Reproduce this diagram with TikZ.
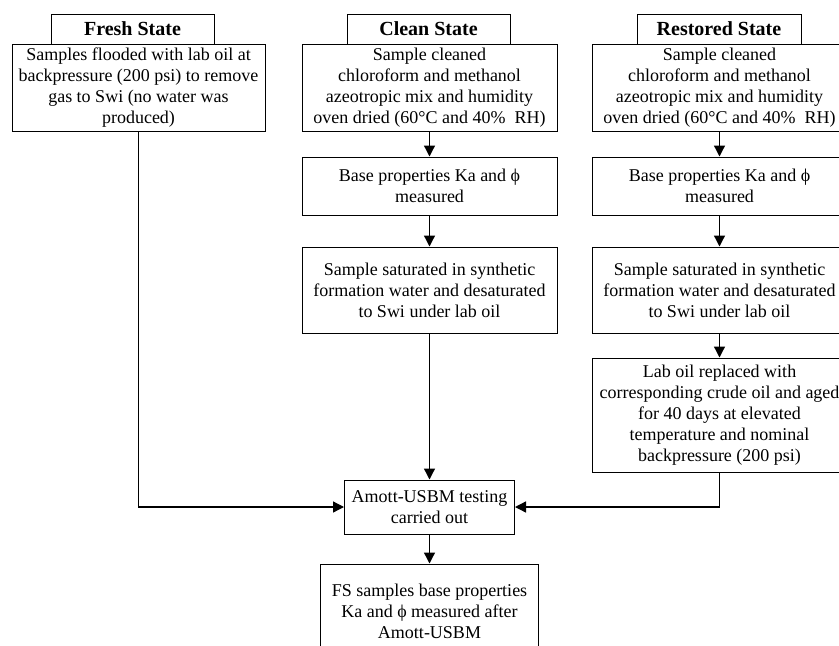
\documentclass[tikz,border=0pt]{standalone}
\usepackage{fontspec}
\setmainfont{Liberation Serif}
\usetikzlibrary{arrows.meta}
\begin{document}
\begin{tikzpicture}[x=1pt,y=-1pt,
  box/.style={draw, line width=1pt, align=center, inner sep=0pt, font=\fontsize{18}{21}\selectfont},
  head/.style={draw, line width=1pt, align=center, inner sep=0pt, font=\fontsize{20}{24}\selectfont\bfseries},
  arr/.style={-{Triangle[length=11pt,width=11pt]}, line width=1.3pt}]
\useasboundingbox (0,0) rectangle (839,646);
\clip (0,0) rectangle (839,646);
% Fresh
\node[head, minimum width=163pt, minimum height=30pt] (fh) at (132.5,29) {Fresh State};
\node[box, minimum width=253pt, minimum height=87pt] (fb) at (138.5,87.5)
  {Samples flooded with lab oil at\\backpressure (200 psi) to remove\\gas to Swi (no water was\\produced)};
% Clean
\node[head, minimum width=163pt, minimum height=30pt] (ch) at (428.5,29) {Clean State};
\node[box, minimum width=255pt, minimum height=87pt] (cb) at (429.5,87.5)
  {Sample cleaned\\chloroform and methanol\\azeotropic mix and humidity\\oven dried (60°C and 40\%\ \ RH)};
\node[box, minimum width=255pt, minimum height=58pt] (cbase) at (429.5,186)
  {Base properties Ka and ϕ\\measured};
\node[box, minimum width=255pt, minimum height=86pt] (csat) at (429.5,290)
  {Sample saturated in synthetic\\formation water and desaturated\\to Swi under lab oil};
% Restored
\node[head, minimum width=164pt, minimum height=30pt] (rh) at (719,29) {Restored State};
\node[box, minimum width=255pt, minimum height=87pt] (rb) at (719.5,87.5)
  {Sample cleaned\\chloroform and methanol\\azeotropic mix and humidity\\oven dried (60°C and 40\%\ \ RH)};
\node[box, minimum width=255pt, minimum height=58pt] (rbase) at (719.5,186)
  {Base properties Ka and ϕ\\measured};
\node[box, minimum width=255pt, minimum height=86pt] (rsat) at (719.5,290)
  {Sample saturated in synthetic\\formation water and desaturated\\to Swi under lab oil};
\node[box, minimum width=255pt, minimum height=114pt] (rlab) at (719.5,415)
  {Lab oil replaced with\\corresponding crude oil and aged\\for 40 days at elevated\\temperature and nominal\\backpressure (200 psi)};
% Bottom
\node[box, minimum width=170pt, minimum height=54pt] (am) at (429.5,507)
  {Amott-USBM testing\\carried out};
\node[box, minimum width=218pt, minimum height=94pt] (fs) at (429.5,611)
  {FS samples base properties\\Ka and ϕ measured after\\Amott-USBM};
% Connectors
\draw[arr] (cb) -- (cbase);
\draw[arr] (cbase) -- (csat);
\draw[arr] (csat) -- (am);
\draw[arr] (rb) -- (rbase);
\draw[arr] (rbase) -- (rsat);
\draw[arr] (rsat) -- (rlab);
\draw[arr] (fb.south) |- (am.west);
\draw[arr] (rlab.south) |- (am.east);
\draw[arr] (am) -- (fs);
\end{tikzpicture}
\end{document}
